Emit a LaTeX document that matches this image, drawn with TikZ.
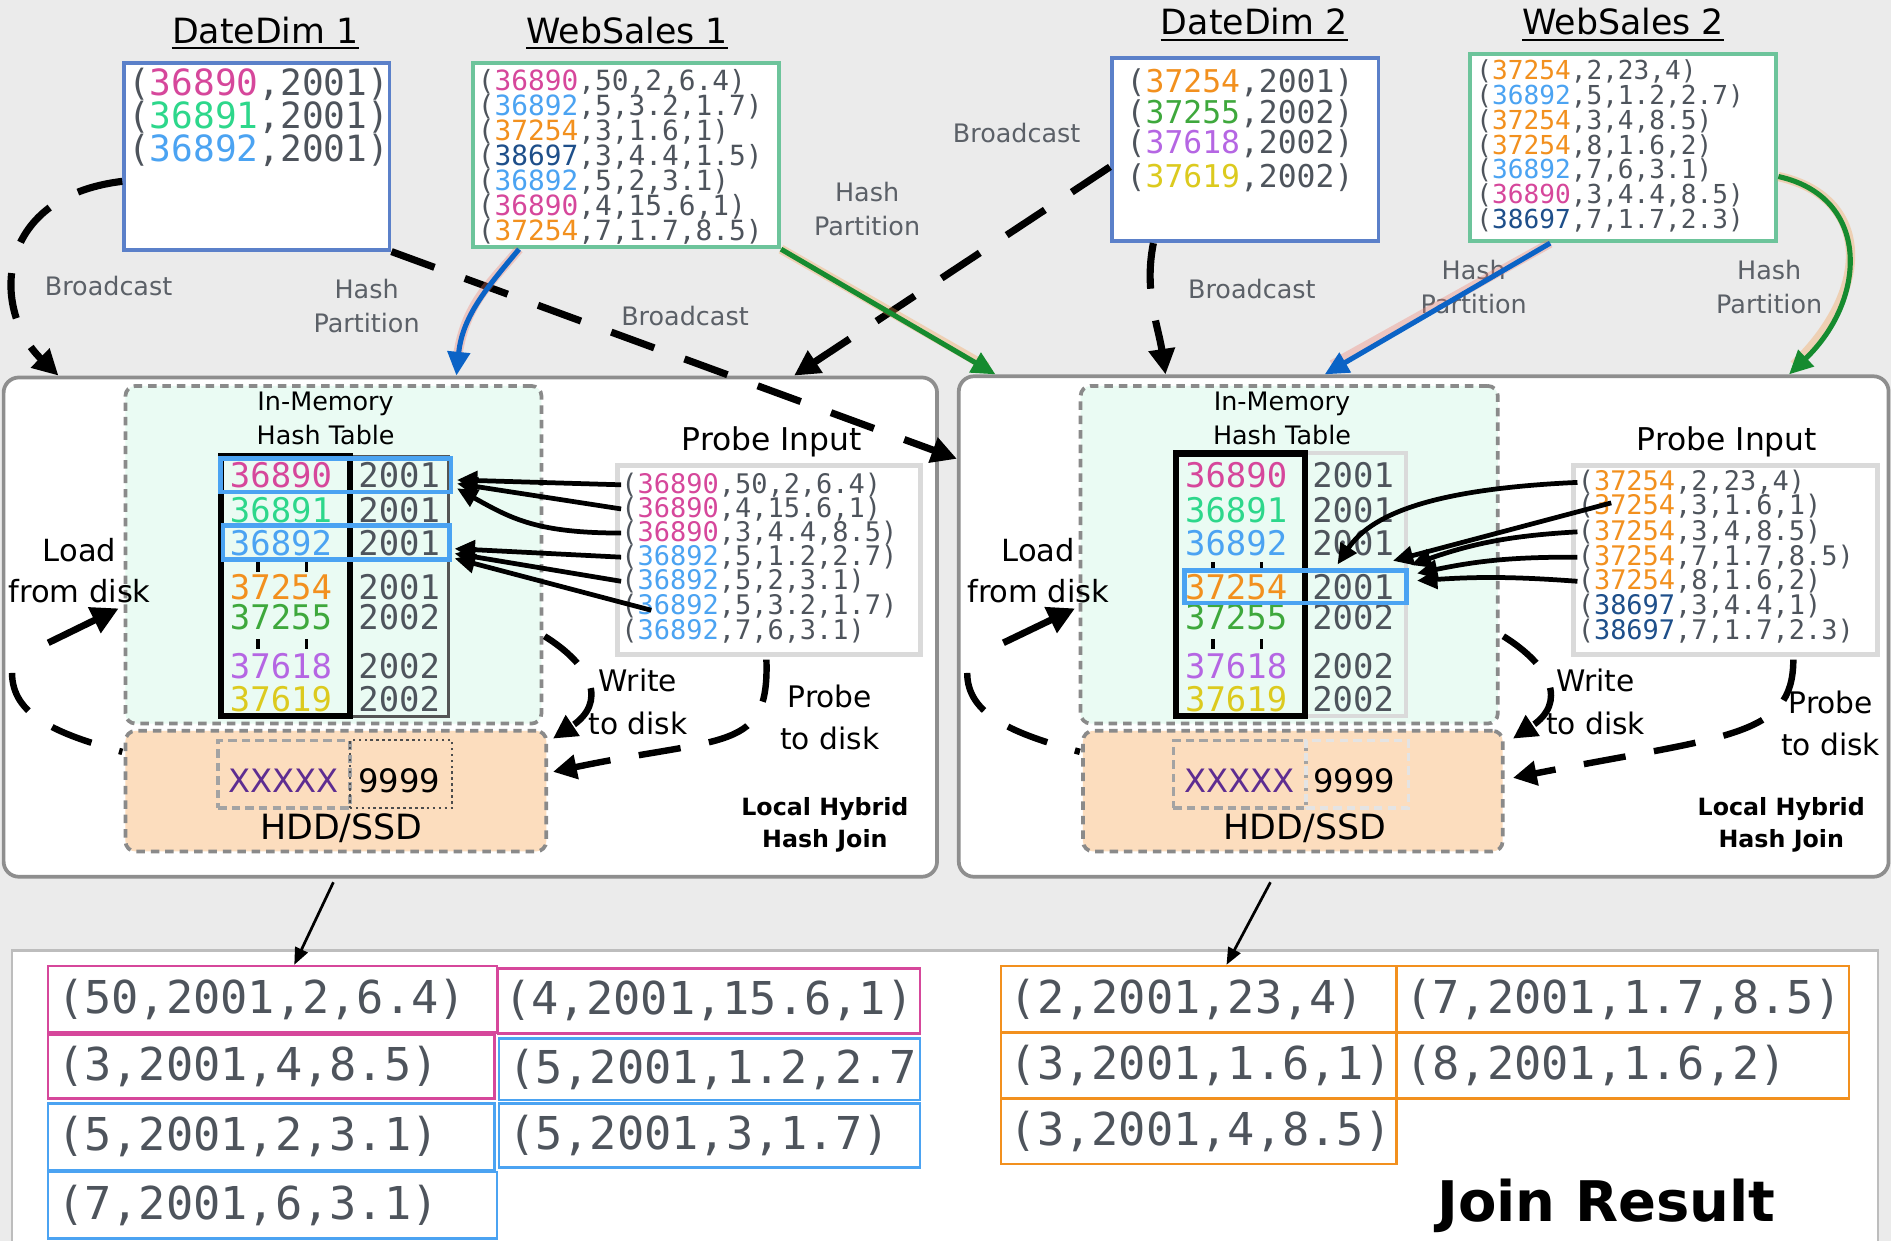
\documentclass[tikz,border=0pt]{standalone}
\usepackage{fontspec}
\setmainfont{DejaVu Sans}
\newfontfamily\mono{DejaVu Sans Mono}
\usetikzlibrary{arrows.meta,fit,calc}
\lineskiplimit=-100pt
\definecolor{bg}{HTML}{EBEBEB}
\definecolor{cMag}{HTML}{D6479B}
\definecolor{cTeal}{HTML}{2DD78B}
\definecolor{cBlue}{HTML}{4BA3F2}
\definecolor{cOrange}{HTML}{F2901E}
\definecolor{cNavy}{HTML}{1E4F8A}
\definecolor{cGreen}{HTML}{3EA83C}
\definecolor{cPurple}{HTML}{B566E3}
\definecolor{cYellow}{HTML}{DCCA1E}
\definecolor{cTxt}{HTML}{4E545C}
\definecolor{lblGray}{HTML}{5B6067}
\definecolor{boxBlue}{HTML}{5B80C9}
\definecolor{boxGreen}{HTML}{6DC49B}
\definecolor{nodeGray}{HTML}{8E8E8E}
\definecolor{dashGray}{HTML}{8A8A8A}
\definecolor{memFill}{HTML}{EAFBF3}
\definecolor{hddFill}{HTML}{FCDDBE}
\definecolor{arrBlue}{HTML}{0B63C6}
\definecolor{arrGreen}{HTML}{168B2F}
\definecolor{glowRed}{HTML}{F08070}
\definecolor{glowOrange}{HTML}{F5A050}
\definecolor{xPurple}{HTML}{5E2D91}
\definecolor{probeBorder}{HTML}{DADADA}
\definecolor{resBorder}{HTML}{BDBDBD}
\definecolor{htGray}{HTML}{555555}
\definecolor{htLight}{HTML}{DADADA}
\definecolor{xGray}{HTML}{A3A3A3}
\definecolor{xLight}{HTML}{E4E4E4}
\newcommand\ccol[2]{\textcolor{#1}{#2}}
\newcommand\fsz[2]{\fontsize{#1}{#2}\selectfont}
\begin{document}
\begin{tikzpicture}[x=0.025cm,y=-0.025cm,
  title/.style={font=\fsz{20.5}{24}, text=black, inner sep=0pt, anchor=base},
  srcbox/.style={inner sep=0pt, fill=white, line width=2.3pt},
  txtblk/.style={text=cTxt, align=left, inner sep=0pt, anchor=north west},
  lbl/.style={text=lblGray, font=\fsz{15}{20}, align=center, inner sep=0pt},
  blk/.style={text=black, align=center, inner sep=0pt},
  hostbox/.style={inner sep=0pt, fill=white, draw=nodeGray, line width=2.2pt, rounded corners=9pt},
  membox/.style={inner sep=0pt, fill=memFill, draw=dashGray, line width=2.2pt, dash pattern=on 5pt off 3.5pt, rounded corners=6pt},
  hddbox/.style={inner sep=0pt, fill=hddFill, draw=dashGray, line width=2.2pt, dash pattern=on 5pt off 3.5pt, rounded corners=6pt},
  htnum/.style={font=\mono\fsz{20}{24}, inner sep=0pt},
  hl/.style={inner sep=0pt, draw=cBlue, line width=2.8pt},
  pline/.style={font=\mono\fsz{15.9}{20}, text=cTxt, inner sep=0pt, anchor=west},
  dsharr/.style={line width=4.2pt, dash pattern=on 27pt off 19pt, -{Triangle[length=15pt,width=15pt]}},
  ddash/.style={line width=3.8pt, dash pattern=on 25pt off 17pt},
  ddarr/.style={ddash, -{Triangle[length=14pt,width=14pt]}},
  loadarr/.style={line width=4pt, -{Triangle[length=16pt,width=16pt]}},
  parr/.style={line width=2.8pt, -{Triangle[length=12pt,width=11pt]}},
  carr/.style={line width=3pt, -{Triangle[length=14pt,width=13pt]}},
  glow/.style={line width=5.5pt, opacity=0.35},
  resarr/.style={line width=1.6pt, -{Triangle[length=10pt,width=8pt]}},
  rescell/.style={inner sep=0pt, line width=1.4pt},
  restext/.style={font=\mono\fsz{26.7}{30}, text=cTxt, inner sep=0pt, anchor=west},
  xbox/.style={inner sep=0pt, line width=2.2pt, dash pattern=on 5pt off 3pt},
  xtxt/.style={font=\fsz{19}{22}, inner sep=0pt}
]
\path[use as bounding box, fill=bg] (0,0) rectangle (1568,1029);

% ---------- titles ----------
\node[title] (t1) at (220,36) {DateDim 1};
\node[title] (t2) at (520,36) {WebSales 1};
\node[title] (t3) at (1040,29) {DateDim 2};
\node[title] (t4) at (1346,29) {WebSales 2};
\foreach \t in {t1,t2,t3,t4}
  \draw[line width=1.3pt] ($(\t.base west)+(0,4)$) -- ($(\t.base east)+(0,4)$);

% ---------- source tables ----------
\node[srcbox, draw=boxBlue, fit={(103,52)(323,207)}] (dd1) {};
\node[srcbox, draw=boxGreen, fit={(392,52)(646,205)}] (ws1) {};
\node[srcbox, draw=boxBlue, fit={(922,48)(1143,200)}] (dd2) {};
\node[srcbox, draw=boxGreen, fit={(1219,45)(1473,200)}] (ws2) {};

\node[txtblk, font=\mono\fsz{21.3}{19.6}] (dd1t) at (106,56)
  {(\ccol{cMag}{36890},2001)\\(\ccol{cTeal}{36891},2001)\\(\ccol{cBlue}{36892},2001)};
\node[txtblk, font=\mono\fsz{16.4}{14.7}] (ws1t) at (396,57.5)
  {(\ccol{cMag}{36890},50,2,6.4)\\(\ccol{cBlue}{36892},5,3.2,1.7)\\(\ccol{cOrange}{37254},3,1.6,1)\\(\ccol{cNavy}{38697},3,4.4,1.5)\\(\ccol{cBlue}{36892},5,2,3.1)\\(\ccol{cMag}{36890},4,15.6,1)\\(\ccol{cOrange}{37254},7,1.7,8.5)};
\node[txtblk, font=\mono\fsz{18.5}{18}] (dd2t) at (934,57)
  {(\ccol{cOrange}{37254},2001)\\(\ccol{cGreen}{37255},2002)\\(\ccol{cPurple}{37618},2002)\\[1.5pt](\ccol{cYellow}{37619},2002)};
\node[txtblk, font=\mono\fsz{15.4}{14.6}] (ws2t) at (1224,49.5)
  {(\ccol{cOrange}{37254},2,23,4)\\(\ccol{cBlue}{36892},5,1.2,2.7)\\(\ccol{cOrange}{37254},3,4,8.5)\\(\ccol{cOrange}{37254},8,1.6,2)\\(\ccol{cBlue}{36892},7,6,3.1)\\(\ccol{cMag}{36890},3,4.4,8.5)\\(\ccol{cNavy}{38697},7,1.7,2.3)};

% ---------- edge labels ----------
\node[lbl] (bc1) at (90,237) {Broadcast};
\node[lbl] (hp1) at (304,254) {Hash\\Partition};
\node[lbl] (bc2) at (568,262) {Broadcast};
\node[lbl] (hp2) at (719,173) {Hash\\Partition};
\node[lbl] (bc3) at (843,110) {Broadcast};
\node[lbl] (bc4) at (1038,240) {Broadcast};
\node[lbl] (hp3) at (1222,238) {Hash\\Partition};
\node[lbl] (hp4) at (1467,238) {Hash\\Partition};

% ---------- result panel ----------
\fill[white] (10,788) rectangle (1557,1029);
\draw[resBorder, line width=1.4pt] (10,1029) -- (10,788) -- (1557,788) -- (1557,1029);

% ---------- host boxes ----------
\node[hostbox, fit={(3,313)(777,727)}] (ln) {};
\node[hostbox, fit={(795,312)(1566,727)}] (rn) {};
\node[membox, fit={(104,320)(449,600)}] (mem1) {};
\node[hddbox, fit={(104,606)(453,706)}] (hdd1) {};
\node[membox, fit={(896,320)(1242,600)}] (mem2) {};
\node[hddbox, fit={(898,606)(1246,706)}] (hdd2) {};

% hash tables
\node[inner sep=0pt, draw=htGray, line width=1.5pt, fit={(290,378)(372,594)}] (ht1b) {};
\node[inner sep=0pt, draw=black, line width=3.6pt, fit={(183,378)(290,594)}] (ht1a) {};
\node[inner sep=0pt, draw=htLight, line width=2.4pt, fit={(1082,376)(1166,594)}] (ht2b) {};
\node[inner sep=0pt, draw=black, line width=3.6pt, fit={(975,376)(1082,594)}] (ht2a) {};
\foreach \y/\k/\v/\c [count=\i] in {394/36890/2001/cMag, 423/36891/2001/cTeal, 450/36892/2001/cBlue, 487/37254/2001/cOrange, 512/37255/2002/cGreen, 552/37618/2002/cPurple, 580/37619/2002/cYellow} {
  \node[htnum, text=\c] (ka\i) at (233,\y) {\k};
  \node[htnum, text=cTxt] (va\i) at (331,\y) {\v};
  \node[htnum, text=\c] (kb\i) at (1025,\y) {\k};
  \node[htnum, text=cTxt] (vb\i) at (1122,\y) {\v};
}
\foreach \x in {214,254,1006,1046} \foreach \y in {470,534}
  \fill (\x-1.5,\y-4) rectangle (\x+1.5,\y+4);
\node[hl, fit={(183,380)(374,408)}] (h1) {};
\node[hl, fit={(185,436)(373,464)}] (h3) {};
\node[hl, fit={(982,473)(1166,500)}] (h5) {};

% texts in hosts
\node[blk, font=\fsz{15}{20}] (im1) at (270,347) {In-Memory\\Hash Table};
\node[blk, font=\fsz{15}{20}] (im2) at (1063,347) {In-Memory\\Hash Table};
\node[blk, font=\fsz{18.5}{22}] (pi1) at (640,366) {Probe Input};
\node[blk, font=\fsz{18.5}{22}] (pi2) at (1432,366) {Probe Input};
\node[blk, font=\fsz{18}{24}] (ld1) at (66,473) {Load\\from disk};
\node[blk, font=\fsz{18}{24}] (ld2) at (861,473) {Load\\from disk};
\node[blk, font=\fsz{17.5}{25}] (wd1) at (529,582) {Write\\to disk};
\node[blk, font=\fsz{17.5}{25}] (wd2) at (1323,582) {Write\\to disk};
\node[blk, font=\fsz{17.5}{25}] (pd1) at (688,595) {Probe\\to disk};
\node[blk, font=\fsz{17.5}{25}] (pd2) at (1518,600) {Probe\\to disk};
\node[blk, font=\bfseries\fsz{14}{18.5}] (lh1) at (684,684) {Local Hybrid\\Hash Join};
\node[blk, font=\bfseries\fsz{14}{18.5}] (lh2) at (1477,684) {Local Hybrid\\Hash Join};

% HDD contents
\node[xbox, draw=xGray, fit={(181,614)(290,670)}] (xb1) {};
\node[inner sep=0pt, draw=black!70, line width=1.2pt, dash pattern=on 1.5pt off 2pt, fit={(290,614)(375,670)}] (xb2) {};
\node[xbox, draw=xGray, fit={(973,614)(1083,670)}] (xb3) {};
\node[xbox, draw=xLight, fit={(1083,614)(1168,670)}] (xb4) {};
\node[xtxt, text=xPurple] (xx1) at (235,647) {XXXXX};
\node[xtxt] (n91) at (331,647) {9999};
\node[xtxt, text=xPurple] (xx2) at (1028,647) {XXXXX};
\node[xtxt] (n92) at (1123,647) {9999};
\node[blk, font=\fsz{20.5}{24}] (hs1) at (283,687) {HDD/SSD};
\node[blk, font=\fsz{20.5}{24}] (hs2) at (1082,687) {HDD/SSD};

% probe inputs
\node[inner sep=0pt, fill=white, draw=probeBorder, line width=2.8pt, fit={(512,386)(763,543)}] (pin1) {};
\node[inner sep=0pt, fill=white, draw=probeBorder, line width=2.8pt, fit={(1305,386)(1557,543)}] (pin2) {};
\node[pline] (p1) at (515,402) {(\ccol{cMag}{36890},50,2,6.4)};
\node[pline] (p2) at (515,422) {(\ccol{cMag}{36890},4,15.6,1)};
\node[pline] (p3) at (515,442) {(\ccol{cMag}{36890},3,4.4,8.5)};
\node[pline] (p4) at (515,462) {(\ccol{cBlue}{36892},5,1.2,2.7)};
\node[pline] (p5) at (515,482) {(\ccol{cBlue}{36892},5,2,3.1)};
\node[pline] (p6) at (515,503) {(\ccol{cBlue}{36892},5,3.2,1.7)};
\node[pline] (p7) at (515,523) {(\ccol{cBlue}{36892},7,6,3.1)};
\node[pline] (q1) at (1308,400) {(\ccol{cOrange}{37254},2,23,4)};
\node[pline] (q2) at (1308,420) {(\ccol{cOrange}{37254},3,1.6,1)};
\node[pline] (q3) at (1308,441) {(\ccol{cOrange}{37254},3,4,8.5)};
\node[pline] (q4) at (1308,462) {(\ccol{cOrange}{37254},7,1.7,8.5)};
\node[pline] (q5) at (1308,482) {(\ccol{cOrange}{37254},8,1.6,2)};
\node[pline] (q6) at (1308,503) {(\ccol{cNavy}{38697},3,4.4,1)};
\node[pline] (q7) at (1308,523) {(\ccol{cNavy}{38697},7,1.7,2.3)};

% probe arrows
\draw[parr] (p1.west) -- ($(h1.east)+(3,4)$);
\draw[parr] (p2.west) -- ($(h1.east)+(3,7)$);
\draw[parr] (p3.west) .. controls +(-70,0) and +(45,25) .. ($(h1.east)+(3,11)$);
\draw[parr] (p4.west) -- ($(h3.east)+(2,5)$);
\draw[parr] (p5.west) -- ($(h3.east)+(2,9)$);
\draw[parr] ($(p6.west)+(25,3)$) -- ($(h3.east)+(2,13)$);
\draw[parr] (q1.west) .. controls +(-110,5) and +(30,-45) .. ($(h5.north west)+(129,-3)$);
\draw[parr] ($(q2.west)+(28,-3)$) -- ($(h5.north east)+(-13,-6)$);
\draw[parr] (q3.west) to[bend right=8] ($(h5.east)+(2,-18)$);
\draw[parr] (q4.west) to[bend right=6] ($(h5.east)+(7,-11)$);
\draw[parr] (q5.west) to[bend right=4] ($(h5.east)+(7,-5)$);

% disk loops
\coordinate (lp1) at (10,558);
\draw[ddash] (lp1) .. controls +(0,35) and +(-55,-15) .. ($(hdd1.north west)+(-1,19)$);
\coordinate (la1) at (40,533);
\draw[loadarr] (la1) -- ($(mem1.north west)+(-4,186)$);
\draw[ddarr] ($(mem1.south east)+(1,-74)$) .. controls +(40,25) and +(45,-30) .. ($(hdd1.north east)+(4,8)$);
\draw[ddarr] ($(pin1.south)+(-2,2)$) .. controls +(2.5,77) and +(143,-30) .. ($(hdd1.east)+(4,-16)$);

\coordinate (lp2) at (802,558);
\draw[ddash] (lp2) .. controls +(0,35) and +(-55,-15) .. ($(hdd2.north west)+(-1,19)$);
\coordinate (la2) at (832,533);
\draw[loadarr] (la2) -- ($(mem2.north west)+(-3,186)$);
\draw[ddarr] ($(mem2.south east)+(3,-74)$) .. controls +(40,25) and +(45,-30) .. ($(hdd2.north east)+(7,8)$);
\draw[ddarr] ($(pin2.south)+(56,2)$) .. controls +(0,65) and +(177,-35) .. ($(hdd2.east)+(7,-11)$);

% ---------- top connectors ----------
\draw[dsharr] ($(dd1.north west)+(0,100)$) .. controls +(-108,13) and +(-55,-53) .. ($(ln.north west)+(47,0)$);
\draw[dsharr] (dd1.south east) -- ($(rn.north west)+(0,70)$);
\draw[dsharr] ($(dd2.north west)+(0,92)$) -- ($(ln.north west)+(657,0)$);
\draw[dsharr] ($(dd2.south west)+(36,0)$) .. controls +(-8,40) and +(-6,-40) .. ($(rn.north west)+(173,0)$);
\draw[glow, glowRed] ($(ws1.south west)+(40,0)$) .. controls +(-25,30) and +(5,-50) .. ($(ln.north west)+(377,-8)$);
\draw[carr, arrBlue] ($(ws1.south west)+(40,0)$) .. controls +(-25,30) and +(5,-50) .. ($(ln.north west)+(377,0)$);
\draw[glow, glowOrange] (ws1.south east) -- ($(rn.north west)+(25,-6)$);
\draw[carr, arrGreen] (ws1.south east) -- ($(rn.north west)+(32,0)$);
\draw[glow, glowRed] ($(ws2.south west)+(68,0)$) -- ($(rn.north west)+(311,-8)$);
\draw[carr, arrBlue] ($(ws2.south west)+(68,0)$) -- ($(rn.north west)+(305,0)$);
\draw[glow, glowOrange] ($(ws2.north east)+(0,103)$) .. controls +(77,17) and +(65,-62) .. ($(rn.north west)+(694,-8)$);
\draw[carr, arrGreen] ($(ws2.north east)+(0,103)$) .. controls +(77,17) and +(65,-62) .. ($(rn.north west)+(690,0)$);

% ---------- results ----------
\node[rescell, draw=cBlue, fit={(414,861)(763,912)}] (c4) {};
\node[rescell, draw=cBlue, fit={(40,915)(410,970)}] (c5) {};
\node[rescell, draw=cBlue, fit={(414,915)(763,968)}] (c6) {};
\node[rescell, draw=cBlue, fit={(40,972)(412,1027)}] (c7) {};
\node[rescell, draw=cMag, fit={(40,801)(412,856)}] (c1) {};
\node[rescell, draw=cMag, fit={(413,803)(763,857)}] (c2) {};
\node[rescell, draw=cMag, fit={(40,858)(410,911)}] (c3) {};
\node[restext] (c1t) at ($(c1.west)+(8,0)$) {(50,2001,2,6.4)};
\node[restext] (c2t) at ($(c2.west)+(6,0)$) {(4,2001,15.6,1)};
\node[restext] (c3t) at ($(c3.west)+(8,0)$) {(3,2001,4,8.5)};
\node[restext] (c4t) at ($(c4.west)+(8,0)$) {(5,2001,1.2,2.7};
\node[restext] (c5t) at ($(c5.west)+(8,0)$) {(5,2001,2,3.1)};
\node[restext] (c6t) at ($(c6.west)+(8,0)$) {(5,2001,3,1.7)};
\node[restext] (c7t) at ($(c7.west)+(8,0)$) {(7,2001,6,3.1)};

\node[rescell, draw=cOrange, fit={(830,801)(1158,856)}] (d1) {};
\node[rescell, draw=cOrange, fit={(1158,801)(1533,856)}] (d2) {};
\node[rescell, draw=cOrange, fit={(830,856)(1158,911)}] (d3) {};
\node[rescell, draw=cOrange, fit={(1158,856)(1533,911)}] (d4) {};
\node[rescell, draw=cOrange, fit={(830,911)(1158,965)}] (d5) {};
\node[restext] (d1t) at ($(d1.west)+(8,0)$) {(2,2001,23,4)};
\node[restext] (d2t) at ($(d2.west)+(8,0)$) {(7,2001,1.7,8.5)};
\node[restext] (d3t) at ($(d3.west)+(8,0)$) {(3,2001,1.6,1)};
\node[restext] (d4t) at ($(d4.west)+(8,0)$) {(8,2001,1.6,2)};
\node[restext] (d5t) at ($(d5.west)+(8,0)$) {(3,2001,4,8.5)};

\node[font=\bfseries\fsz{33}{36}, inner sep=0pt] (jr) at (1332,1000) {Join Result};

\draw[resarr] ($(ln.south west)+(275,3)$) -- ($(c1.north west)+(205,0)$);
\draw[resarr] ($(rn.south west)+(260,3)$) -- ($(d1.north west)+(188,0)$);
\end{tikzpicture}
\end{document}
